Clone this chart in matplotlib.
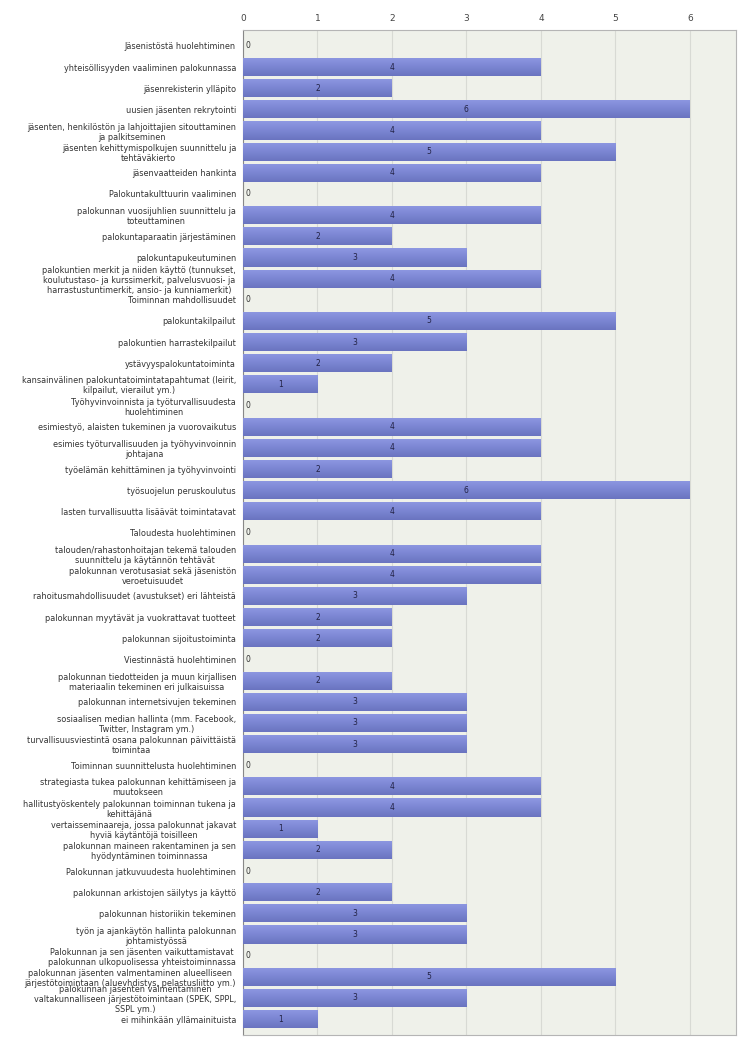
import matplotlib
matplotlib.use("Agg")
import matplotlib.pyplot as plt
import numpy as np

labels = [
    "Jäsenistöstä huolehtiminen",
    "yhteisöllisyyden vaaliminen palokunnassa",
    "jäsenrekisterin ylläpito",
    "uusien jäsenten rekrytointi",
    "jäsenten, henkilöstön ja lahjoittajien sitouttaminen\nja palkitseminen",
    "jäsenten kehittymispolkujen suunnittelu ja\ntehtäväkierto",
    "jäsenvaatteiden hankinta",
    "Palokuntakulttuurin vaaliminen",
    "palokunnan vuosijuhlien suunnittelu ja\ntoteuttaminen",
    "palokuntaparaatin järjestäminen",
    "palokuntapukeutuminen",
    "palokuntien merkit ja niiden käyttö (tunnukset,\nkoulutustaso- ja kurssimerkit, palvelusvuosi- ja\nharrastustuntimerkit, ansio- ja kunniamerkit)",
    "Toiminnan mahdollisuudet",
    "palokuntakilpailut",
    "palokuntien harrastekilpailut",
    "ystävyyspalokuntatoiminta",
    "kansainvälinen palokuntatoimintatapahtumat (leirit,\nkilpailut, vierailut ym.)",
    "Työhyvinvoinnista ja työturvallisuudesta\nhuolehtiminen",
    "esimiestyö, alaisten tukeminen ja vuorovaikutus",
    "esimies työturvallisuuden ja työhyvinvoinnin\njohtajana",
    "työelämän kehittäminen ja työhyvinvointi",
    "työsuojelun peruskoulutus",
    "lasten turvallisuutta lisäävät toimintatavat",
    "Taloudesta huolehtiminen",
    "talouden/rahastonhoitajan tekemä talouden\nsuunnittelu ja käytännön tehtävät",
    "palokunnan verotusasiat sekä jäsenistön\nveroetuisuudet",
    "rahoitusmahdollisuudet (avustukset) eri lähteistä",
    "palokunnan myytävät ja vuokrattavat tuotteet",
    "palokunnan sijoitustoiminta",
    "Viestinnästä huolehtiminen",
    "palokunnan tiedotteiden ja muun kirjallisen\nmateriaalin tekeminen eri julkaisuissa",
    "palokunnan internetsivujen tekeminen",
    "sosiaalisen median hallinta (mm. Facebook,\nTwitter, Instagram ym.)",
    "turvallisuusviestintä osana palokunnan päivittäistä\ntoimintaa",
    "Toiminnan suunnittelusta huolehtiminen",
    "strategiasta tukea palokunnan kehittämiseen ja\nmuutokseen",
    "hallitustyöskentely palokunnan toiminnan tukena ja\nkehittäjänä",
    "vertaisseminaareja, jossa palokunnat jakavat\nhyviä käytäntöjä toisilleen",
    "palokunnan maineen rakentaminen ja sen\nhyödyntäminen toiminnassa",
    "Palokunnan jatkuvuudesta huolehtiminen",
    "palokunnan arkistojen säilytys ja käyttö",
    "palokunnan historiikin tekeminen",
    "työn ja ajankäytön hallinta palokunnan\njohtamistyössä",
    "Palokunnan ja sen jäsenten vaikuttamistavat\npalokunnan ulkopuolisessa yhteistoiminnassa",
    "palokunnan jäsenten valmentaminen alueelliseen\njärjestötoimintaan (aluevhdistys, pelastusliitto ym.)",
    "palokunnan jäsenten valmentaminen\nvaltakunnalliseen järjestötoimintaan (SPEK, SPPL,\nSSPL ym.)",
    "ei mihinkään yllämainituista",
]

values = [0, 4, 2, 6, 4, 5, 4, 0, 4, 2, 3, 4, 0, 5, 3, 2, 1, 0, 4, 4, 2, 6, 4,
          0, 4, 4, 3, 2, 2, 0, 2, 3, 3, 3, 0, 4, 4, 1, 2, 0, 2, 3, 3, 0, 5, 3, 1]

x_ticks = [0, 1, 2, 3, 4, 5, 6]

fig = plt.figure(figsize=(7.5, 10.5), dpi=100)
ax = fig.add_axes([243/750, 1 - 1035/1050, (736-243)/750, (1035-30)/1050])

n = len(labels)
y = np.arange(n)
ax.set_facecolor("#eff1ea")
bars = ax.barh(y, values, height=0.86, color="#7c87d4", edgecolor="none", zorder=3)

# vertical gradient inside each bar (lighter top, darker bottom)
grad = np.linspace(0, 1, 64).reshape(-1, 1)
cmap = matplotlib.colors.LinearSegmentedColormap.from_list(
    "barg", ["#8e98e2", "#7b86d3", "#6a74c0"])
for b in bars:
    if b.get_width() <= 0:
        continue
    x0, y0 = b.get_x(), b.get_y()
    w, h = b.get_width(), b.get_height()
    im = ax.imshow(grad, cmap=cmap, aspect="auto", origin="upper",
                   extent=(x0, x0 + w, y0 + h, y0), zorder=3.5, interpolation="bilinear")
    im.set_clip_path(b)

for yi, v in zip(y, values):
    if v == 0:
        ax.text(0.04, yi, str(v), ha="left", va="center", fontsize=5.5, color="#333333", zorder=5)
    else:
        ax.text(v / 2, yi, str(v), ha="center", va="center", fontsize=5.5, color="#222244", zorder=5)

ax.set_xlim(0, 6.62)
ax.set_ylim(n - 0.25, -0.75)
ax.set_xticks(x_ticks)
ax.xaxis.tick_top()
ax.tick_params(axis="x", length=0, labelsize=6.5, labelcolor="#444444", pad=5)
ax.grid(axis="x", color="#d8dad4", linewidth=0.8, zorder=1)
ax.set_axisbelow(True)

ax.set_yticks(y)
ax.set_yticklabels(labels, fontsize=5.9, color="#333333", linespacing=1.15, multialignment="center")
ax.tick_params(axis="y", length=0, pad=5)

for s in ax.spines.values():
    s.set_color("#b5b5b5")
    s.set_linewidth(0.8)
ax.spines["left"].set_color("#888888")

fig.savefig("out.png", dpi=100, facecolor="white")
